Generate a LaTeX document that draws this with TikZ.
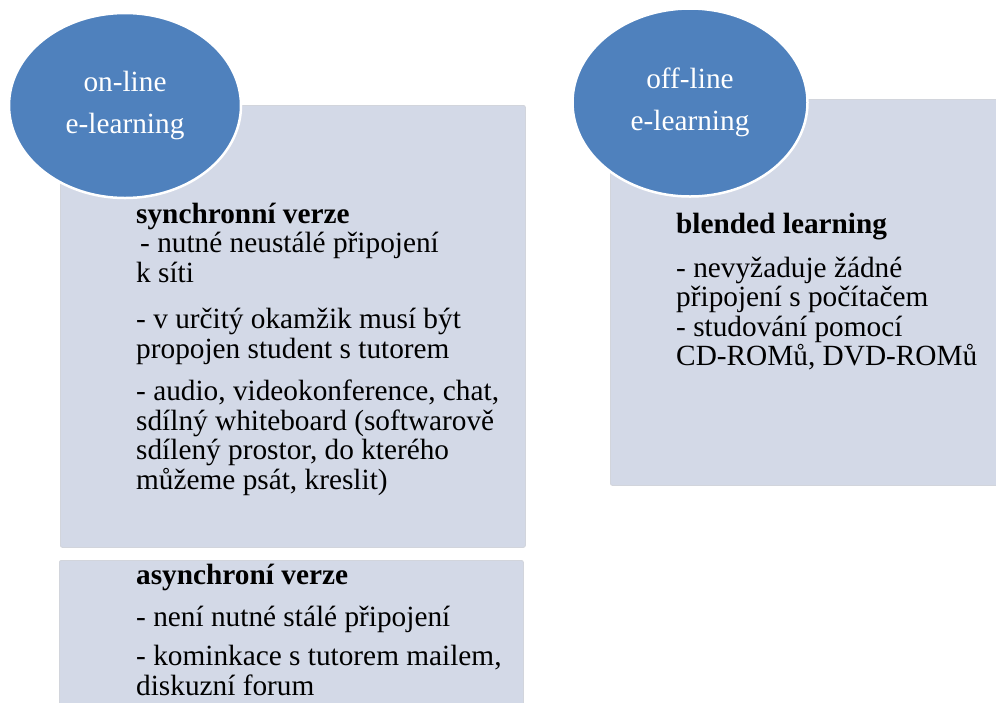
\documentclass[tikz,border=0pt]{standalone}
\usepackage{fontspec}
\setmainfont{Liberation Serif}
\usetikzlibrary{positioning, shapes.geometric}
\definecolor{bubbleblue}{RGB}{79,129,189}
\definecolor{panelgrey}{RGB}{211,217,231}

\begin{document}
\begin{tikzpicture}[x=1pt, y=-1pt,
    panel/.style={fill=panelgrey, draw=panelgrey!85!black!60!white, line width=0.8pt, rounded corners=2pt, inner sep=0pt, anchor=north west},
    bubble/.style={ellipse, fill=bubbleblue, draw=white, line width=2.5pt, text=white, align=center, inner sep=0pt, font=\fontsize{29.3}{42}\selectfont},
    paneltext/.style={anchor=north west, align=left, inner sep=0pt, font=\fontsize{29.3}{29.5}\selectfont}]
            \useasboundingbox (0,0) rectangle (996,702);
            \clip (0,0) rectangle (996,702);
            % boxes
            \node[panel, minimum width=465pt, minimum height=442pt] (sync) at (60,105) {};
            \node[panel, minimum width=464pt, minimum height=170pt] (async) at (59,560) {};
            \node[panel, minimum width=400pt, minimum height=386pt] (blended) at (610,99) {};
            % bubbles
            \node[bubble, minimum width=232pt, minimum height=185pt] (online) at (125,105.5) {on-line\\e-learning};
            \node[bubble, minimum width=235pt, minimum height=188pt] (offline) at (690,102.5) {off-line\\e-learning};
            % texts
            \node[paneltext] (synctext) at (136,202.5) {\textbf{synchronní verze}\\
                \hspace*{4pt}- nutné neustálé připojení\\
                k síti\\[17pt]
                - v určitý okamžik musí být\\
                propojen student s tutorem\\[13pt]
                - audio, videokonference, chat,\\
                sdílný whiteboard (softwarově\\
                sdílený prostor, do kterého\\
                můžeme psát, kreslit)};
            \node[paneltext] (asynctext) at (136,564) {\textbf{asynchroní verze}\\[12pt]
                - není nutné stálé připojení\\[10pt]
                - kominkace s tutorem mailem,\\
                diskuzní forum};
            \node[paneltext] (blendedtext) at (676,213) {\textbf{blended learning}\\[14pt]
                - nevyžaduje žádné\\
                připojení s počítačem\\
                - studování pomocí\\
                CD-ROMů, DVD-ROMů};
        \end{tikzpicture}
\end{document}
